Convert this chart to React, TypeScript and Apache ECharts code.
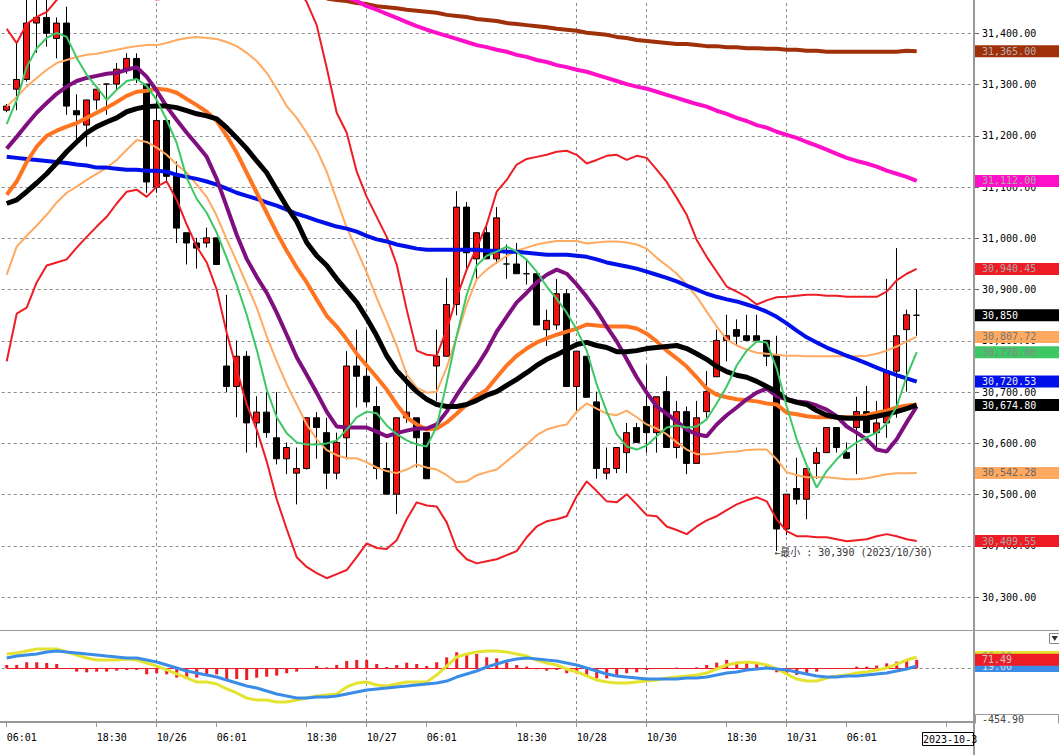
import { useEffect, useRef } from 'react';
import * as echarts from 'echarts';

// ---- axes ----
const categoryCount = 97;
const timeTicks: [number, string][] = [
  [0, '06:01'], [9, '18:30'], [15, '10/26'], [21, '06:01'], [30, '18:30'],
  [36, '10/27'], [42, '06:01'], [51, '18:30'], [57, '10/28'], [64, '10/30'],
  [72, '18:30'], [78, '10/31'], [84, '06:01'], [94, ''],
];
const dayStarts = [15, 36, 57, 64, 78];
const priceTicks = [30300, 30400, 30500, 30600, 30700, 30800, 30900, 31000, 31100, 31200, 31300, 31400];
const priceRange = [30236, 31465];
const macdRange = [-454.9, 316];
const macdTicks = [0];
const lowDate = '2023/10/30';
const cursorDate = '2023-10-3';

// ---- price bars: [open, close, low, high] ----
const candles: number[][] = [
  [31250, 31258, 31246, 31262], [31291, 31310, 31250, 31384], [31310, 31420, 31306, 31475], [31420, 31431, 31362, 31478],
  [31431, 31400, 31374, 31480], [31390, 31420, 31351, 31431], [31420, 31258, 31241, 31452], [31249, 31241, 31192, 31281],
  [31221, 31270, 31179, 31270], [31270, 31291, 31251, 31291], [31301, 31301, 31241, 31302], [31301, 31330, 31290, 31342],
  [31330, 31351, 31321, 31361], [31351, 31310, 31303, 31361], [31301, 31110, 31089, 31301], [31100, 31230, 31089, 31280],
  [31230, 31121, 31111, 31230], [31121, 31020, 30991, 31150], [31011, 30991, 30949, 31011], [30991, 30981, 30941, 31001],
  [30991, 31001, 30982, 31021], [31001, 30949, 30949, 31001], [30751, 30711, 30700, 30890], [30711, 30770, 30651, 30801],
  [30770, 30640, 30582, 30780], [30640, 30661, 30592, 30692], [30661, 30621, 30611, 30700], [30611, 30570, 30559, 30700],
  [30570, 30592, 30540, 30602], [30542, 30551, 30481, 30592], [30551, 30650, 30549, 30651], [30650, 30631, 30570, 30661],
  [30621, 30542, 30511, 30650], [30542, 30602, 30530, 30621], [30611, 30751, 30569, 30780], [30751, 30731, 30670, 30822],
  [30731, 30681, 30672, 30822], [30672, 30551, 30530, 30711], [30551, 30501, 30501, 30602], [30501, 30650, 30462, 30650],
  [30650, 30661, 30640, 30741], [30650, 30611, 30553, 30650], [30621, 30531, 30531, 30621], [30751, 30770, 30683, 30822],
  [30770, 30871, 30770, 30923], [30871, 31061, 30850, 31092], [31061, 30972, 30941, 31071], [30960, 31011, 30920, 31011],
  [31011, 30960, 30960, 31030], [30960, 31040, 30950, 31061], [30950, 30950, 30921, 30988], [30950, 30931, 30931, 30991],
  [30931, 30931, 30910, 30960], [30931, 30831, 30831, 30931], [30822, 30840, 30790, 30861], [30831, 30892, 30822, 30921],
  [30892, 30711, 30711, 30901], [30711, 30780, 30660, 30780], [30770, 30690, 30690, 30770], [30681, 30551, 30531, 30701],
  [30542, 30551, 30530, 30592], [30551, 30592, 30542, 30592], [30582, 30621, 30542, 30640], [30631, 30602, 30602, 30640],
  [30672, 30621, 30582, 30753], [30621, 30691, 30582, 30691], [30701, 30592, 30592, 30731], [30592, 30662, 30571, 30683],
  [30662, 30561, 30540, 30672], [30561, 30650, 30561, 30683], [30662, 30701, 30650, 30741], [30730, 30801, 30730, 30822],
  [30801, 30810, 30760, 30851], [30822, 30809, 30790, 30842], [30810, 30801, 30801, 30851], [30810, 30801, 30801, 30851],
  [30801, 30770, 30751, 30801], [30772, 30433, 30390, 30810], [30433, 30501, 30421, 30501], [30512, 30491, 30481, 30572],
  [30491, 30551, 30452, 30551], [30561, 30582, 30531, 30592], [30582, 30631, 30582, 30631], [30631, 30592, 30582, 30631],
  [30582, 30571, 30571, 30602], [30631, 30662, 30540, 30691], [30662, 30621, 30621, 30712], [30621, 30640, 30592, 30683],
  [30640, 30741, 30611, 30921], [30741, 30810, 30650, 30981], [30822, 30851, 30701, 30861], [30850, 30850, 30810, 30901],
];

// ---- moving averages ----
const maShort = [
  31223, 31270, 31334, 31371, 31391, 31401, 31393, 31352, 31319, 31295,
  31270, 31290, 31307, 31311, 31297, 31270, 31231, 31186, 31118, 31077,
  31050, 31011, 30962, 30910, 30851, 30783, 30705, 30651, 30620, 30602,
  30598, 30598, 30600, 30606, 30627, 30651, 30662, 30659, 30635, 30618,
  30606, 30598, 30594, 30633, 30719, 30810, 30890, 30947, 30966, 30974,
  30984, 30974, 30958, 30935, 30906, 30882, 30855, 30822, 30781, 30715,
  30662, 30618, 30594, 30588, 30596, 30614, 30631, 30635, 30631, 30633,
  30647, 30678, 30711, 30752, 30781, 30799, 30797, 30746, 30672, 30608,
  30557, 30514, 30546, 30569, 30588, 30602, 30612, 30621, 30639, 30672,
  30731, 30778,
];
const maMid = [
  31175, 31198, 31222, 31245, 31264, 31282, 31296, 31307, 31313, 31317,
  31321, 31323, 31329, 31334, 31315, 31288, 31257, 31231, 31206, 31183,
  31159, 31116, 31062, 31007, 30960, 30925, 30894, 30855, 30812, 30768,
  30734, 30699, 30662, 30633, 30631, 30631, 30631, 30623, 30614, 30620,
  30625, 30629, 30629, 30637, 30662, 30694, 30723, 30750, 30781, 30818,
  30847, 30875, 30894, 30914, 30929, 30939, 30931, 30910, 30886, 30859,
  30828, 30799, 30764, 30729, 30699, 30672, 30658, 30643, 30627, 30618,
  30614, 30637, 30655, 30670, 30686, 30699, 30707, 30692, 30686, 30682,
  30680, 30674, 30666, 30653, 30633, 30621, 30608, 30588, 30584, 30608,
  30641, 30672,
];
const maOrange = [
  31085, 31111, 31149, 31179, 31200, 31210, 31218, 31225, 31235, 31245,
  31255, 31266, 31278, 31286, 31288, 31292, 31290, 31284, 31272, 31260,
  31247, 31229, 31200, 31167, 31128, 31089, 31050, 31011, 30976, 30943,
  30914, 30881, 30849, 30828, 30803, 30775, 30752, 30729, 30705, 30676,
  30651, 30637, 30627, 30629, 30641, 30658, 30676, 30692, 30705, 30729,
  30752, 30771, 30785, 30797, 30805, 30812, 30818, 30824, 30832, 30830,
  30828, 30828, 30828, 30824, 30814, 30799, 30781, 30766, 30750, 30729,
  30707, 30695, 30690, 30686, 30684, 30682, 30678, 30676, 30660, 30657,
  30653, 30651, 30651, 30651, 30651, 30651, 30655, 30660, 30664, 30670,
  30674, 30676,
];
const maLong = [
  31159, 31157, 31155, 31153, 31151, 31149, 31147, 31144, 31142, 31138,
  31138, 31136, 31134, 31134, 31132, 31132, 31130, 31124, 31120, 31116,
  31111, 31105, 31097, 31089, 31083, 31077, 31070, 31064, 31056, 31048,
  31042, 31035, 31029, 31023, 31019, 31013, 31005, 30998, 30994, 30988,
  30984, 30980, 30978, 30978, 30978, 30978, 30978, 30978, 30976, 30976,
  30974, 30974, 30972, 30970, 30968, 30968, 30968, 30966, 30964, 30959,
  30953, 30949, 30945, 30941, 30935, 30929, 30923, 30916, 30908, 30900,
  30892, 30886, 30881, 30877, 30871, 30865, 30857, 30847, 30834, 30820,
  30807, 30797, 30787, 30779, 30771, 30764, 30756, 30748, 30740, 30733,
  30727, 30720.53,
];
const ma200 = [
  null, null, null, null, null, null, null, null, null, null,
  null, null, null, null, null, null, null, null, null, null,
  null, null, null, null, null, null, null, null, null, null,
  null, null, null, null, 31470, 31463, 31453, 31446, 31438, 31430,
  31422, 31414, 31407, 31401, 31395, 31389, 31383, 31377, 31373, 31368,
  31364, 31358, 31354, 31348, 31344, 31338, 31334, 31329, 31325, 31319,
  31313, 31307, 31301, 31296, 31292, 31286, 31280, 31274, 31268, 31262,
  31257, 31249, 31243, 31235, 31229, 31221, 31216, 31208, 31202, 31196,
  31188, 31181, 31173, 31165, 31157, 31151, 31146, 31140, 31132, 31126,
  31120, 31112,
];
const ma300 = [
  null, null, null, null, null, null, null, null, null, null,
  null, null, null, null, null, null, null, null, null, null,
  null, null, null, null, null, null, null, null, null, null,
  null, null, 31468, 31465, 31463, 31459, 31457, 31453, 31451, 31449,
  31446, 31444, 31442, 31440, 31436, 31434, 31432, 31428, 31426, 31424,
  31420, 31418, 31416, 31414, 31412, 31409, 31407, 31405, 31401, 31399,
  31397, 31393, 31391, 31387, 31385, 31383, 31381, 31379, 31379, 31377,
  31375, 31375, 31373, 31373, 31371, 31371, 31370, 31370, 31368, 31368,
  31366, 31366, 31364, 31364, 31364, 31364, 31364, 31364, 31364, 31364,
  31366, 31365,
];

// ---- bollinger bands ----
const bbMid = [
  31068, 31075, 31091, 31108, 31126, 31147, 31169, 31188, 31206, 31218,
  31227, 31235, 31247, 31253, 31257, 31258, 31258, 31255, 31249, 31243,
  31239, 31233, 31216, 31196, 31175, 31151, 31128, 31095, 31062, 31033,
  30992, 30966, 30947, 30921, 30898, 30875, 30844, 30810, 30771, 30742,
  30721, 30701, 30686, 30676, 30672, 30672, 30676, 30684, 30694, 30701,
  30713, 30725, 30738, 30752, 30764, 30773, 30783, 30793, 30797, 30791,
  30787, 30779, 30779, 30781, 30785, 30787, 30789, 30791, 30785, 30775,
  30764, 30750, 30740, 30733, 30729, 30721, 30711, 30701, 30686, 30680,
  30676, 30664, 30655, 30651, 30649, 30649, 30649, 30653, 30657, 30662,
  30668, 30674.8,
];
const bbUp1 = [
  31257, 31276, 31296, 31313, 31329, 31342, 31348, 31354, 31358, 31360,
  31364, 31368, 31372, 31375, 31377, 31377, 31381, 31387, 31391, 31393,
  31391, 31389, 31383, 31375, 31362, 31346, 31323, 31292, 31258, 31235,
  31206, 31173, 31130, 31075, 31021, 30978, 30933, 30884, 30838, 30791,
  30734, 30709, 30699, 30701, 30748, 30808, 30871, 30920, 30939, 30953,
  30966, 30976, 30982, 30988, 30992, 30995, 30995, 30995, 30990, 30992,
  30994, 30994, 30992, 30988, 30980, 30962, 30947, 30931, 30910, 30886,
  30857, 30828, 30803, 30791, 30783, 30777, 30775, 30773, 30771, 30771,
  30770, 30770, 30770, 30770, 30770, 30770, 30771, 30775, 30781, 30789,
  30799, 30807.72,
];
const bbLow1 = [
  30929, 30984, 31005, 31025, 31046, 31070, 31089, 31101, 31114, 31126,
  31138, 31153, 31173, 31192, 31188, 31177, 31163, 31144, 31128, 31105,
  31081, 31044, 30998, 30955, 30910, 30865, 30809, 30760, 30715, 30676,
  30637, 30608, 30587, 30577, 30571, 30571, 30563, 30553, 30546, 30542,
  30549, 30559, 30553, 30549, 30538, 30524, 30526, 30538, 30544, 30549,
  30565, 30581, 30598, 30616, 30627, 30633, 30637, 30662, 30678, 30668,
  30658, 30655, 30664, 30651, 30637, 30629, 30618, 30602, 30588, 30579,
  30579, 30581, 30583, 30584, 30587, 30588, 30588, 30569, 30544, 30538,
  30534, 30534, 30534, 30532, 30530, 30530, 30532, 30536, 30540, 30542,
  30542, 30542.28,
];
const bbUp2 = [
  31409, 31381, 31418, 31432, 31442, 31465, 31480, 31490, 31495, 31498,
  31500, 31495, 31488, 31478, 31470, 31466, 31468, 31475, 31485, 31500,
  31515, 31530, 31545, 31555, 31560, 31560, 31550, 31535, 31515, 31490,
  31461, 31416, 31333, 31245, 31206, 31130, 31081, 31042, 31003, 30949,
  30861, 30781, 30773, 30771, 30822, 30885, 30939, 30982, 31027, 31091,
  31114, 31144, 31155, 31159, 31163, 31169, 31171, 31163, 31146, 31153,
  31161, 31163, 31153, 31161, 31157, 31134, 31110, 31079, 31046, 30997,
  30964, 30935, 30906, 30896, 30886, 30871, 30879, 30885, 30886, 30888,
  30890, 30890, 30888, 30888, 30886, 30886, 30886, 30886, 30896, 30918,
  30931, 30940.45,
];
const bbLow2 = [
  30760, 30853, 30865, 30914, 30947, 30953, 30959, 30982, 31003, 31023,
  31042, 31068, 31091, 31095, 31081, 31101, 31111, 31075, 31027, 30984,
  30953, 30900, 30816, 30744, 30676, 30627, 30565, 30491, 30433, 30378,
  30359, 30347, 30337, 30345, 30353, 30378, 30405, 30396, 30394, 30411,
  30452, 30485, 30479, 30477, 30446, 30394, 30374, 30366, 30370, 30374,
  30382, 30390, 30417, 30438, 30448, 30452, 30458, 30497, 30526, 30507,
  30487, 30485, 30501, 30481, 30460, 30458, 30438, 30431, 30423, 30438,
  30450, 30458, 30470, 30481, 30489, 30495, 30487, 30452, 30429, 30419,
  30419, 30417, 30417, 30413, 30409, 30411, 30413, 30419, 30423, 30419,
  30413, 30409.55,
];

// ---- MACD ----
const macdLine = [
  121, 130, 147, 163, 163, 163, 138, 113, 87, 70,
  70, 70, 79, 70, 45, 19, -14, -48, -82, -116,
  -116, -133, -175, -209, -252, -269, -269, -285, -285, -269,
  -252, -235, -226, -218, -158, -125, -116, -141, -150, -133,
  -116, -116, -116, -57, 19, 96, 121, 138, 147, 147,
  138, 121, 104, 70, 45, 28, -6, -31, -65, -99,
  -116, -125, -125, -116, -108, -99, -82, -74, -65, -57,
  -40, -6, 28, 45, 53, 45, 28, -6, -48, -91,
  -108, -108, -82, -65, -57, -40, -31, -14, 3, 36,
  70, 96,
];
const signalLine = [
  87, 104, 113, 121, 138, 147, 138, 130, 121, 113,
  104, 96, 87, 87, 70, 53, 28, 3, -23, -40,
  -57, -74, -99, -125, -150, -167, -192, -218, -235, -252,
  -252, -243, -243, -235, -218, -201, -184, -175, -167, -158,
  -150, -141, -133, -125, -108, -74, -48, -23, 11, 36,
  62, 79, 87, 79, 70, 62, 45, 28, 3, -23,
  -48, -65, -74, -82, -91, -91, -91, -91, -82, -82,
  -74, -57, -40, -31, -14, -6, 3, -6, -14, -31,
  -48, -65, -74, -74, -65, -65, -57, -48, -40, -23,
  -6, 19,
];
const histogram = [
  28, 28, 51, 51, 45, 37, 0, -28, -34, -28,
  -28, -20, -14, -14, -51, -42, -51, -79, -88, -79,
  -62, -51, -93, -90, -99, -79, -71, -62, -42, -28,
  -3, 20, 8, 28, 62, 71, 71, 37, 11, 28,
  48, 37, 20, 51, 93, 136, 127, 121, 93, 85,
  51, 28, 14, -8, -20, -14, -42, -42, -56, -85,
  -85, -65, -42, -34, -14, -2, 2, 6, 2, 8,
  28, 48, 71, 56, 56, 42, 20, -34, -56, -56,
  -42, -28, -3, 2, 3, 14, 14, 23, 42, 56,
  79, 71.49,
];

const FONT = "'DejaVu Sans Mono', 'Noto Sans CJK JP', monospace";
const RED = '#EE1C24';
const LIGHT_ORANGE = '#FFAA60';
const GREEN = '#3CC864';
const BLUE = '#0010E8';
const GRID_GRAY = '#8c8c8c';

const fmt2 = (v: number) => v.toLocaleString('en-US', { minimumFractionDigits: 2, maximumFractionDigits: 2 });
const last = (a: any[]) => a[a.length - 1];

// label box on the right axis, at the last value of a series
const tag = (value: number, bg: string, fg: string, text?: string) => ({
  yAxis: value,
  label: { formatter: text ?? fmt2(value), backgroundColor: bg, color: fg },
});
const tagStyle = {
  silent: true,
  symbol: 'none',
  z: 5,
  lineStyle: { width: 0, color: 'rgba(0,0,0,0)' },
  label: {
    show: true, position: 'end', distance: 3.3, fontFamily: FONT, fontSize: 10, opacity: 1,
    lineHeight: 12, padding: [0, 4, 0, 7], width: 73,
  },
};
const dayLines = {
  silent: true,
  symbol: 'none',
  z: 1,
  label: { show: false },
  lineStyle: { color: GRID_GRAY, type: [3, 3], width: 1 },
  data: dayStarts.map((d) => ({ xAxis: d })),
};

function line(data: any[], color: string, width: number, axis = 0, extra: any = {}) {
  return {
    type: 'line', data, xAxisIndex: axis, yAxisIndex: axis, symbol: 'none', showSymbol: false,
    silent: true, lineStyle: { color, width }, itemStyle: { color }, ...extra,
  };
}

export default function App() {
  const ref = useRef<HTMLDivElement>(null);

  useEffect(() => {
    if (!ref.current) return;
    const chart = echarts.init(ref.current, undefined, { renderer: 'svg' });

    const cats = Array.from({ length: categoryCount }, (_, i) => String(i));
    const tickMap = new Map(timeTicks);
    const showTick = (i: number) => tickMap.has(i);

    const lows = candles.map((c) => c[2]);
    const lowMin = Math.min(...lows);
    const lowIdx = lows.indexOf(lowMin);
    const lastClose = last(candles)[1];

    chart.setOption({
      animation: false,
      backgroundColor: '#fff',
      grid: [
        { left: 1.7, width: 970, top: 0, height: 630, outerBoundsMode: 'none' },
        { left: 1.7, width: 970, top: 631, height: 91, outerBoundsMode: 'none' },
      ],
      xAxis: [
        {
          type: 'category', gridIndex: 0, data: cats, boundaryGap: true,
          axisLine: { show: false, onZero: false }, axisTick: { show: false },
          axisLabel: { show: false }, splitLine: { show: false },
        },
        {
          type: 'category', gridIndex: 1, data: cats, boundaryGap: true,
          axisLine: { show: false, onZero: false },
          axisTick: { show: true, alignWithLabel: true, interval: (i: number) => showTick(i), length: 5, lineStyle: { color: '#999' } },
          axisLabel: {
            show: true, interval: (i: number) => showTick(i), formatter: (v: string) => tickMap.get(Number(v)) ?? '',
            align: 'left', margin: 10, fontFamily: FONT, fontSize: 10, color: '#000',
          },
          splitLine: { show: false },
        },
      ],
      yAxis: [
        {
          type: 'value', gridIndex: 0, position: 'right', offset: 2.3, min: priceRange[0], max: priceRange[1],
          axisLine: { show: false },
          axisTick: { show: true, customValues: priceTicks, length: 5, lineStyle: { color: '#666' } },
          axisLabel: { customValues: priceTicks, formatter: (v: number) => fmt2(v), margin: 8, fontFamily: FONT, fontSize: 10, color: '#000' },
          splitLine: { show: true, lineStyle: { color: GRID_GRAY, type: [3, 3], width: 1 } },
        },
        {
          type: 'value', gridIndex: 1, position: 'right', offset: 2.3, min: macdRange[0], max: macdRange[1],
          axisLine: { show: false },
          axisTick: { show: true, customValues: macdTicks, length: 5, lineStyle: { color: '#666' } },
          axisLabel: { customValues: macdTicks, formatter: (v: number) => fmt2(v), margin: 8, fontFamily: FONT, fontSize: 10, color: '#000' },
          splitLine: { show: true, lineStyle: { color: GRID_GRAY, type: [3, 3], width: 1 } },
        },
      ],
      series: [
        line(bbUp2, RED, 2),
        line(bbLow2, RED, 2),
        line(bbUp1, LIGHT_ORANGE, 2),
        line(bbLow1, LIGHT_ORANGE, 2),
        line(ma300, '#A0300A', 4),
        line(ma200, '#FF10C8', 4),
        line(maLong, BLUE, 4),
        line(maOrange, '#FF7420', 4),
        line(maMid, '#7F0F7F', 4, 0, { markLine: dayLines }),
        line(bbMid, '#000', 5),
        line(maShort, GREEN, 2),
        {
          type: 'candlestick', data: candles, xAxisIndex: 0, yAxisIndex: 0, barWidth: 7, silent: true,
          itemStyle: { color: '#F01010', color0: '#000', borderColor: '#000', borderColor0: '#000', borderWidth: 1 },
          markLine: {
            ...tagStyle,
            data: [
              tag(last(ma300), '#A0300A', '#b0b0b0'),
              tag(last(ma200), '#FF10C8', '#a8a8a8'),
              tag(last(bbUp2), RED, '#a8a8a8'),
              tag(lastClose, '#000', '#fff', lastClose.toLocaleString('en-US')),
              tag(last(bbUp1), LIGHT_ORANGE, '#777'),
              tag(last(maShort), GREEN, '#888'),
              tag(last(maLong), BLUE, '#e8e8e8'),
              tag(last(bbMid), '#000', '#fff'),
              tag(last(bbLow1), LIGHT_ORANGE, '#666'),
              tag(last(bbLow2), RED, '#a8a8a8'),
            ],
          },
          markPoint: {
            silent: true, z: 6, symbol: 'rect', symbolSize: [1, 1], itemStyle: { color: 'rgba(0,0,0,0)' },
            label: {
              show: true, position: 'right', distance: 0, offset: [-3, 1], opacity: 1,
              formatter: `←最小 : ${lowMin.toLocaleString('en-US')} (${lowDate})`,
              fontFamily: FONT, fontSize: 10, color: '#333',
            },
            data: [{ coord: [lowIdx, lowMin] }],
          },
        },
        {
          type: 'bar', data: histogram, xAxisIndex: 1, yAxisIndex: 1, barWidth: 3, silent: true,
          itemStyle: { color: RED },
          markLine: {
            ...tagStyle,
            data: [
              tag(last(macdLine), '#E4E430', '#999'),
              tag(last(signalLine), '#3A8CE8', '#ddd'),
              tag(last(histogram), RED, '#c8c8c8'),
            ],
          },
        },
        line(macdLine, '#E4E430', 3, 1, { markLine: dayLines }),
        line(signalLine, '#3A8CE8', 3, 1, {
          markLine: {
            silent: true, symbol: 'none', z: 3, label: { show: false },
            lineStyle: { color: RED, width: 1, type: 'solid' },
            data: [[{ coord: [0, 0] }, { coord: [candles.length - 1, 0] }]],
          },
        }),
      ],
      graphic: [
        { type: 'line', silent: true, z: 50, shape: { x1: 0, y1: 630.5, x2: 1059, y2: 630.5 }, style: { stroke: '#999', lineWidth: 1 } },
        { type: 'line', silent: true, z: 50, shape: { x1: 0, y1: 722, x2: 974, y2: 722 }, style: { stroke: '#999', lineWidth: 2 } },
        { type: 'rect', silent: true, z: 40, shape: { x: 975.5, y: 714.5, width: 83, height: 12 }, style: { fill: '#fff', stroke: '#999', lineWidth: 1 } },
        { type: 'text', silent: true, z: 41, x: 982, y: 714, style: { text: fmt2(macdRange[0]), fill: '#444', font: `10px ${FONT}` } },
        { type: 'rect', silent: true, z: 45, shape: { x: 975, y: 723.5, width: 84, height: 32 }, style: { fill: '#fff' } },
        { type: 'line', silent: true, z: 50, shape: { x1: 974, y1: 0, x2: 974, y2: 755 }, style: { stroke: '#999', lineWidth: 2 } },
        { type: 'rect', silent: true, z: 50, shape: { x: 1049.5, y: 633.5, width: 11, height: 10 }, style: { fill: '#fff', stroke: '#888', lineWidth: 1 } },
        { type: 'polygon', silent: true, z: 51, shape: { points: [[1051.5, 636], [1058, 636], [1054.7, 641]] }, style: { fill: '#333' } },
        { type: 'rect', silent: true, z: 50, shape: { x: 922.5, y: 732.5, width: 51, height: 13 }, style: { fill: '#fff', stroke: '#000', lineWidth: 1 } },
        { type: 'text', silent: true, z: 51, x: 923, y: 734, style: { text: cursorDate, fill: '#000', font: `10px ${FONT}` } },
      ],
    });

    return () => chart.dispose();
  }, []);

  return <div ref={ref} style={{ position: 'fixed', left: 0, top: 0, width: 1059, height: 755, background: '#fff' }} />;
}
